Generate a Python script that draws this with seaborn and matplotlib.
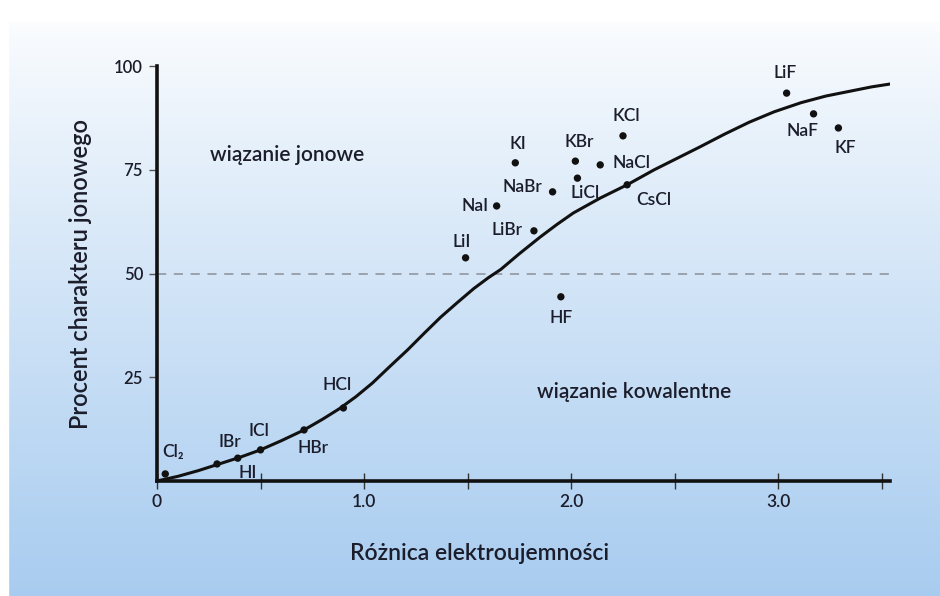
import numpy as np
import pandas as pd
import seaborn as sns
import matplotlib.pyplot as plt

# compounds: electronegativity difference vs percent ionic character
names = ['Cl₂', 'IBr', 'HI', 'ICl', 'HBr', 'HCl', 'LiI', 'NaI', 'LiBr', 'KI',
         'NaBr', 'KBr', 'LiCl', 'NaCl', 'KCl', 'CsCl', 'HF', 'LiF', 'NaF', 'KF']
diff = [0.04, 0.29, 0.39, 0.50, 0.71, 0.90, 1.49, 1.64, 1.82, 1.73,
        1.91, 2.02, 2.03, 2.14, 2.25, 2.27, 1.95, 3.04, 3.17, 3.29]
ionic = [1.7, 4.1, 5.5, 7.5, 12.3, 17.6, 53.8, 66.3, 60.3, 76.7,
         69.7, 77.1, 73.0, 76.2, 83.2, 71.4, 44.4, 93.5, 88.5, 85.1]

# curve
curve_x = [0.0, 0.10, 0.20, 0.30, 0.40, 0.50, 0.60, 0.71, 0.80, 0.88, 0.96,
           1.04, 1.12, 1.21, 1.29, 1.37, 1.45, 1.53, 1.60, 1.66, 1.75,
           1.85, 1.93, 2.01, 2.14, 2.27, 2.40, 2.50, 2.62, 2.74, 2.86,
           2.98, 3.11, 3.23, 3.35, 3.45, 3.54]
curve_y = [0.0, 1.1, 2.5, 4.1, 5.7, 7.5, 9.7, 12.3, 14.9, 17.4, 20.3,
           23.6, 27.4, 31.6, 35.6, 39.5, 43.0, 46.4, 49.0, 51.0, 54.8,
           58.8, 61.8, 64.6, 68.2, 71.4, 75.0, 77.5, 80.5, 83.6, 86.5,
           89.0, 91.2, 92.8, 94.0, 95.0, 95.7]

# label offsets (pixels) relative to each dot
offsets = {
    'Cl₂': (8, 22), 'IBr': (13, 22), 'HI': (10, -15), 'ICl': (-2, 19),
    'HBr': (9, -18), 'HCl': (-6, 23), 'LiI': (-4, 16), 'NaI': (-22, 0),
    'LiBr': (-27, 1), 'KI': (3, 19), 'NaBr': (-30, 5), 'KBr': (4, 19),
    'LiCl': (8, -15), 'NaCl': (31, 2), 'KCl': (3, 20), 'CsCl': (27, -15),
    'HF': (0, -21), 'LiF': (-1, 20), 'NaF': (-11, -17), 'KF': (7, -20),
}

pts = pd.DataFrame({'name': names, 'diff': diff, 'ionic': ionic})
curve = pd.DataFrame({'x': curve_x, 'y': curve_y})

sns.set_theme(style='white')
plt.rcParams['font.family'] = ['Lato', 'DejaVu Sans']
ink = '#1b1d2b'
wt = 'semibold'

fig = plt.figure(figsize=(9.4, 5.96), dpi=100)

# background gradient, white at the top to light blue at the bottom
bg = fig.add_axes([0, 0, 1, 1], zorder=-5)
grad = np.linspace(0, 1, 256)[:, None]
top = np.array([1.0, 1.0, 1.0])
bot = np.array([0.66, 0.80, 0.94])
img = top + (bot - top) * grad[..., None] ** 0.9
img = np.repeat(img, 2, axis=1)
bg.imshow(img, aspect='auto', extent=[0, 1, 0, 1], origin='upper')
bg.axvspan(0, 0.009, color='white')
bg.axhspan(0.965, 1, color='white')
bg.set_xlim(0, 1)
bg.set_ylim(0, 1)
bg.axis('off')

ax = fig.add_axes([0.167, 0.193, 0.780, 0.696])
ax.set_facecolor('none')

ax.axhline(50, color='#8a8f99', lw=1.1, ls=(0, (6, 5)), zorder=1)
sns.lineplot(data=curve, x='x', y='y', sort=False, color='#111111', lw=2.2, ax=ax, zorder=3)
sns.scatterplot(data=pts, x='diff', y='ionic', color='#111111', s=28, edgecolor='none', ax=ax, zorder=4)

for n, xv, yv in zip(names, diff, ionic):
    dx, dy = offsets[n]
    ax.annotate(n, (xv, yv), xytext=(dx, dy), textcoords='offset pixels',
                ha='center', va='center', fontsize=12.5, color=ink, fontweight=wt)

ax.text(0.256, 78.6, 'wiązanie jonowe', fontsize=15, color=ink, va='center', ha='left',
        fontweight=wt)
ax.text(1.835, 21.5, 'wiązanie kowalentne', fontsize=15, color=ink, va='center', ha='left',
        fontweight=wt)

ax.set_xlim(0, 3.54)
ax.set_ylim(0, 100)
ax.set_xticks([0, 0.5, 1.0, 1.5, 2.0, 2.5, 3.0, 3.5])
ax.set_xticklabels(['0', '', '1.0', '', '2.0', '', '3.0', ''])
ax.set_yticks([25, 50, 75, 100])
ax.set_yticklabels(['25', '50', '75', '100'])
ax.tick_params(axis='x', direction='inout', length=11, width=1, color='#333333',
               labelsize=12.5, labelcolor=ink, pad=4, bottom=True)
ax.tick_params(axis='y', direction='out', length=6, width=1, color='#555555',
               labelsize=12, labelcolor=ink, pad=4, left=True)
for lbl in ax.get_xticklabels() + ax.get_yticklabels():
    lbl.set_fontweight(wt)

for s in ['top', 'right']:
    ax.spines[s].set_visible(False)
for s in ['left', 'bottom']:
    ax.spines[s].set_color('#111111')
    ax.spines[s].set_linewidth(2.6)

ax.set_xlabel('Różnica elektroujemności', fontsize=16.5, color=ink, fontweight=wt)
ax.xaxis.set_label_coords(0.44, -0.15)
ax.set_ylabel('Procent charakteru jonowego', fontsize=17, color=ink, fontweight=wt)
ax.yaxis.set_label_coords(-0.088, 0.5)

plt.savefig('out.png', dpi=100)
